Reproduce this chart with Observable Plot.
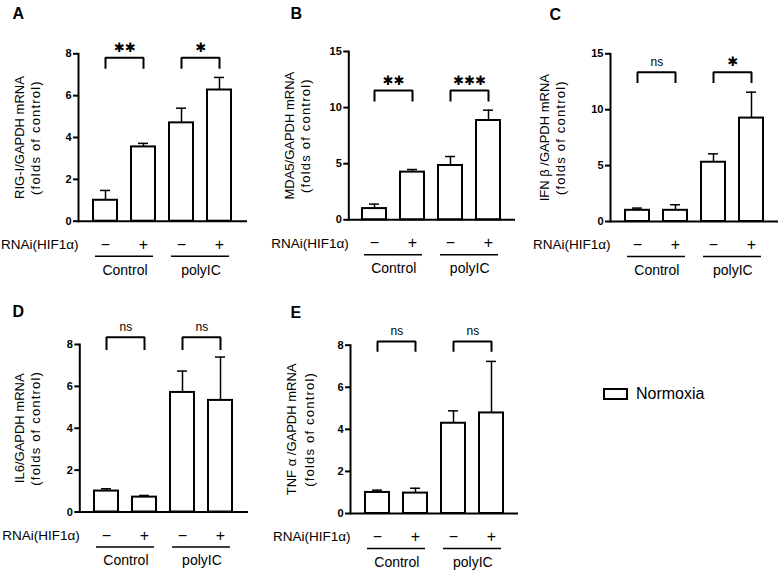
<!DOCTYPE html>
<html><head><meta charset="utf-8">
<script src="https://cdn.jsdelivr.net/npm/d3@7"></script>
<script src="https://cdn.jsdelivr.net/npm/@observablehq/plot@0.6"></script>
<style>
body{margin:0;background:#fff;}
#fig{position:relative;width:784px;height:574px;font-family:"Liberation Sans",Arial,Helvetica,sans-serif;}
#fig svg{position:absolute;overflow:visible;}
#fig .t2 text{letter-spacing:1.2px;}
#legend{position:absolute;left:603px;top:385px;display:flex;align-items:center;font-size:16px;color:#000;}
#legend .box{width:21px;height:8px;border:2px solid #000;margin-right:8px;}
</style></head><body><div id="fig"><div id="legend"><span class="box"></span><span id="legtext"></span></div></div>
<script>
// categories
const conditions = ["Control −", "Control +", "polyIC −", "polyIC +"];
const groupNames = ["Control", "polyIC"];
const rnaiLabels = ["−", "+", "−", "+"];
const rnaiTitle = "RNAi(HIF1α)";
// series (mean, SEM)
const rigMean  = [1.00, 3.55, 4.70, 6.27];
const rigSem   = [0.47, 0.17, 0.70, 0.60];
const mda5Mean = [1.00, 4.25, 4.84, 8.85];
const mda5Sem  = [0.40, 0.23, 0.80, 0.92];
const ifnMean  = [1.00, 1.00, 5.30, 9.25];
const ifnSem   = [0.20, 0.50, 0.75, 2.32];
const il6Mean  = [1.00, 0.71, 5.71, 5.33];
const il6Sem   = [0.11, 0.08, 1.02, 2.07];
const tnfMean  = [1.00, 0.97, 4.29, 4.78];
const tnfSem   = [0.11, 0.23, 0.59, 2.45];
// tick labels
const ticks8  = [0, 2, 4, 6, 8];
const ticks15 = [0, 5, 10, 15];
// significance labels
const sigA = ["✱✱", "✱"];
const sigB = ["✱✱", "✱✱✱"];
const sigC = ["ns", "✱"];
const sigD = ["ns", "ns"];
const sigE = ["ns", "ns"];
const legendLabel = "Normoxia";

const panels = [
  {id:"A", t1:"RIG-I/GAPDH mRNA", mean:rigMean, sem:rigSem, yMax:8, ticks:ticks8, sig:sigA, br:[7.81,7.33],
   left:0, top:0, W:260, H:290, ml:78, mr:13, mt:53.3, mb:69.3, letter:[12,18.3], tdx:[-59,-43]},
  {id:"B", t1:"MDA5/GAPDH mRNA", mean:mda5Mean, sem:mda5Sem, yMax:15, ticks:ticks15, sig:sigB, br:[11.52,10.63],
   left:260, top:0, W:260, H:290, ml:88.3, mr:5, mt:51, mb:70.7, letter:[30,18.3], tdx:[-59,-43]},
  {id:"C", t1:"IFN β /GAPDH mRNA", mean:ifnMean, sem:ifnSem, yMax:15, ticks:ticks15, sig:sigC, br:[13.36,12.47],
   left:520, top:0, W:264, H:290, ml:90, mr:6, mt:53.3, mb:69, letter:[29,19], tdx:[-66,-50]},
  {id:"D", t1:"IL6/GAPDH mRNA", mean:il6Mean, sem:il6Sem, yMax:8, ticks:ticks8, sig:sigD, br:[8.35,7.79],
   left:0, top:290, W:260, H:284, ml:79.3, mr:12, mt:54, mb:62.5, letter:[12,26], tdx:[-60,-43.5]},
  {id:"E", t1:"TNF α /GAPDH mRNA", mean:tnfMean, sem:tnfSem, yMax:8, ticks:ticks8, sig:sigE, br:[8.18,7.74],
   left:260, top:290, W:260, H:284, ml:90, mr:2, mt:54.7, mb:61, letter:[30,27.3], tdx:[-58.5,-41]}
];
const t2 = "(folds of control)";
const PI = 0.36, PO = 0.35;
const font = "'Liberation Sans', Arial, Helvetica, sans-serif";

function makePanel(p) {
  const table = conditions.map((c, i) => ({cond: c, rnai: rnaiLabels[i], mean: p.mean[i], upper: p.mean[i] + p.sem[i]}));
  const step = (p.W - p.ml - p.mr) / (conditions.length - PI + 2 * PO);
  const pairs = [0, 1].map(g => ({first: conditions[2*g], second: conditions[2*g+1], group: groupNames[g], sig: p.sig[g], top: p.br[0]}));
  const bracketPts = pairs.flatMap((q, k) => [
    {k, cond: q.first, y: p.br[1]}, {k, cond: q.first, y: p.br[0]},
    {k, cond: q.second, y: p.br[0]}, {k, cond: q.second, y: p.br[1]}
  ]);
  const sigStars = pairs.filter(q => q.sig !== "ns");
  const sigNs = pairs.filter(q => q.sig === "ns");
  const svg = Plot.plot({
    width: p.W, height: p.H,
    marginLeft: p.ml, marginRight: p.mr, marginTop: p.mt, marginBottom: p.mb,
    style: {fontFamily: font, fontSize: "11px", color: "#000", background: "transparent", overflow: "visible"},
    x: {type: "band", domain: conditions, paddingInner: PI, paddingOuter: PO, axis: null},
    y: {domain: [0, p.yMax], axis: null},
    marks: [
      Plot.barY(table, {x: "cond", y: "mean", fill: "white", stroke: "#000", strokeWidth: 2}),
      Plot.ruleX(table, {x: "cond", y1: "mean", y2: "upper", stroke: "#000", strokeWidth: 1.5}),
      Plot.tickY(table, {x: "cond", y: "upper", stroke: "#000", strokeWidth: 1.5, insetLeft: 7, insetRight: 7}),
      Plot.axisY({ticks: p.ticks, tickSize: 5, tickPadding: 2, strokeWidth: 2, label: null, fontSize: 11, fontWeight: "bold"}),
      Plot.frame({anchor: "left", stroke: "#000", strokeWidth: 2}),
      Plot.ruleY([0], {stroke: "#000", strokeWidth: 2}),
      Plot.line(bracketPts, {x: "cond", y: "y", z: "k", stroke: "#000", strokeWidth: 2, strokeLinejoin: "miter", strokeLinecap: "square"}),
      Plot.text(sigStars, {x: "first", y: "top", text: "sig", dx: step / 2, dy: -6, lineAnchor: "bottom", fontSize: 13, fontWeight: "bold", fontFamily: "DejaVu Sans"}),
      Plot.text(sigNs, {x: "first", y: "top", text: "sig", dx: step / 2, dy: -6.5, lineAnchor: "bottom", fontSize: 12}),
      Plot.text(table, {x: "cond", text: "rnai", frameAnchor: "bottom", dy: 23.5, lineAnchor: "middle", fontSize: 16}),
      Plot.text([rnaiTitle], {frameAnchor: "bottom-left", textAnchor: "end", dx: 0, dy: 23.5, lineAnchor: "middle", fontSize: 13.5}),
      Plot.ruleY(pairs, {x1: "first", x2: "second", y: () => 0, dy: 35, stroke: "#000", strokeWidth: 1.5, insetLeft: 2, insetRight: 2}),
      Plot.text(pairs, {x: "first", text: "group", dx: step / 2, frameAnchor: "bottom", dy: 49, lineAnchor: "middle", fontSize: 14}),
      Plot.text([p.t1], {frameAnchor: "left", textAnchor: "middle", rotate: -90, dx: p.tdx[0], lineAnchor: "middle", fontSize: 13}),
      Plot.text([t2], {frameAnchor: "left", textAnchor: "middle", rotate: -90, dx: p.tdx[1], lineAnchor: "middle", fontSize: 13, className: "t2"}),
      Plot.text([p.id], {frameAnchor: "top-left", dx: p.letter[0] - p.ml, dy: p.letter[1] - p.mt, textAnchor: "start", lineAnchor: "bottom", fontSize: 16, fontWeight: "bold"})
    ]
  });
  svg.style.left = p.left + "px";
  svg.style.top = p.top + "px";
  return svg;
}
const fig = document.getElementById("fig");
for (const p of panels) fig.appendChild(makePanel(p));
document.getElementById("legtext").textContent = legendLabel;
</script>
</body></html>
